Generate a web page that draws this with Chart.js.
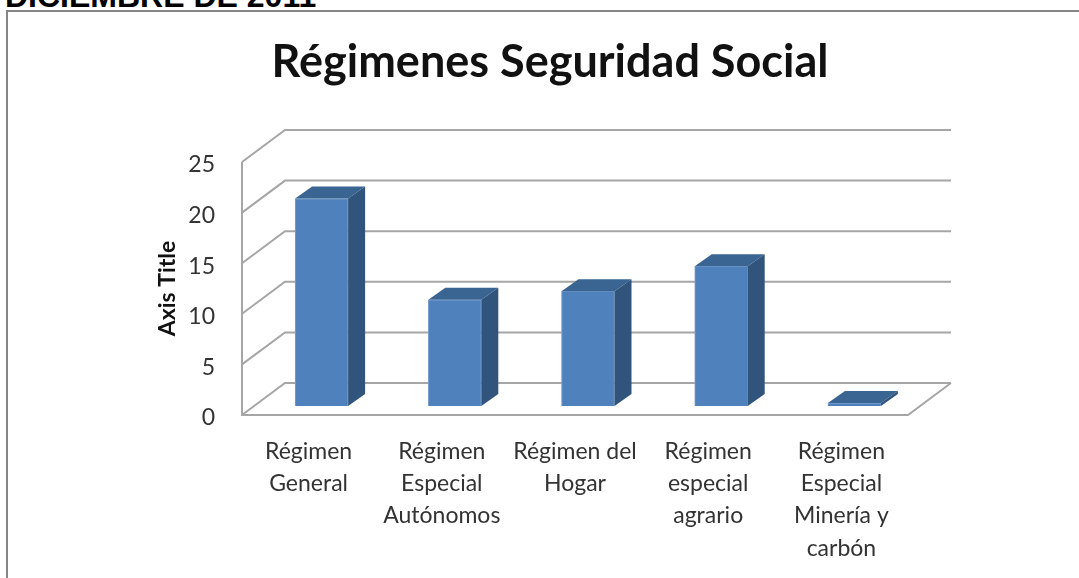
<!DOCTYPE html>
<html>
<head>
<meta charset="utf-8">
<style>
  html, body { margin: 0; padding: 0; background: #fff; overflow: hidden; }
  #heading { position: absolute; left: 5px; top: -22px; font: bold 32px "Liberation Sans", Arial, sans-serif; color: #000; white-space: nowrap; }
  #frame { position: absolute; left: 6px; top: 10px; width: 1073px; height: 568px; border-top: 2px solid #858585; border-left: 2px solid #858585; box-sizing: border-box; }
  #wrap { position: absolute; left: 21px; top: 0; width: 1058px; height: 578px; }
</style>
</head>
<body>
<div id="heading">DICIEMBRE DE 2011</div>
<div id="frame"></div>
<div id="wrap"><canvas id="regimenChart"></canvas></div>
<script src="https://cdn.jsdelivr.net/npm/chart.js@4/dist/chart.umd.js"></script>
<script>
var categories = [
  ['Régimen', 'General'],
  ['Régimen', 'Especial', 'Autónomos'],
  ['Régimen del', 'Hogar'],
  ['Régimen', 'especial', 'agrario'],
  ['Régimen', 'Especial', 'Minería y', 'carbón']
];
var values = [20.5, 10.5, 11.35, 13.8, 0.3];
var yTicks = [0, 5, 10, 15, 20, 25];

var gridColor = '#a6a6a6';
// 3D look: depth of the back wall and of the bars, in pixels
var wall = { x: 43, y: -32 };
var barShift = { x: 13, y: -9 };
var barDepth = { x: 17, y: -12 };

function fillPoly(ctx, pts, color) {
  ctx.fillStyle = color;
  ctx.beginPath();
  ctx.moveTo(pts[0][0], pts[0][1]);
  pts.slice(1).forEach(function(p) { ctx.lineTo(p[0], p[1]); });
  ctx.closePath();
  ctx.fill();
}

var box3d = {
  id: 'box3d',
  // walls and floor behind the bars
  beforeDatasetsDraw: function(chart) {
    var ctx = chart.ctx, area = chart.chartArea, y = chart.scales.y;
    ctx.save();
    ctx.strokeStyle = gridColor;
    ctx.lineWidth = 2;
    yTicks.forEach(function(v) {
      var py = y.getPixelForValue(v);
      ctx.beginPath();
      ctx.moveTo(area.left, py);
      ctx.lineTo(area.left + wall.x, py + wall.y);
      ctx.lineTo(area.right + wall.x, py + wall.y);
      ctx.stroke();
    });
    var top = y.getPixelForValue(25), zero = y.getPixelForValue(0);
    ctx.beginPath();
    ctx.moveTo(area.left, top);
    ctx.lineTo(area.left, zero);
    ctx.lineTo(area.right, zero);
    ctx.lineTo(area.right + wall.x, zero + wall.y);
    ctx.stroke();
    ctx.restore();
  },
  // push the native bars off the front plane
  beforeDatasetDraw: function(chart) {
    chart.ctx.save();
    chart.ctx.translate(barShift.x, barShift.y);
  },
  afterDatasetDraw: function(chart, args) {
    var ctx = chart.ctx;
    args.meta.data.forEach(function(bar) {
      var l = bar.x - bar.width / 2, r = bar.x + bar.width / 2, t = bar.y, b = bar.base;
      fillPoly(ctx, [[l, t], [r, t], [r + barDepth.x, t + barDepth.y], [l + barDepth.x, t + barDepth.y]], '#3a6491');
      fillPoly(ctx, [[r, t], [r + barDepth.x, t + barDepth.y], [r + barDepth.x, b + barDepth.y], [r, b]], '#31547d');
    });
    ctx.restore();
  }
};

new Chart(document.getElementById('regimenChart'), {
  type: 'bar',
  data: {
    labels: categories,
    datasets: [{
      data: values,
      backgroundColor: '#4f81bd',
      borderColor: '#7ba0d0',
      borderWidth: 1,
      barThickness: 53
    }]
  },
  plugins: [box3d],
  options: {
    responsive: true,
    maintainAspectRatio: false,
    animation: false,
    plugins: {
      legend: { display: false },
      tooltip: { enabled: false },
      title: {
        display: true,
        text: 'Régimenes Seguridad Social',
        color: '#111',
        font: { family: 'Lato', size: 45, weight: 'bold', lineHeight: 1.2 },
        padding: { top: 35, bottom: 73 }
      }
    },
    scales: {
      x: {
        grid: { display: false },
        border: { display: false },
        afterFit: function(scale) { scale.height = 163; },
        ticks: {
          color: '#333',
          autoSkip: false,
          maxRotation: 0,
          minRotation: 0,
          padding: 12,
          font: { family: 'Lato', size: 23, lineHeight: 1.41 }
        }
      },
      y: {
        min: 0,
        max: 25,
        grid: { display: false },
        border: { display: false },
        afterFit: function(scale) { scale.width = 221; },
        title: {
          display: true,
          text: 'Axis Title',
          color: '#111',
          font: { family: 'Lato', size: 23, weight: 'bold', lineHeight: 1.2 },
          padding: { top: 133, bottom: 0 }
        },
        ticks: {
          color: '#333',
          stepSize: 5,
          padding: 19,
          // empty first line nudges the number a few px below its gridline
          callback: function(v) { return ['', String(v)]; },
          font: { family: 'Lato', size: 23, lineHeight: 0.26 }
        }
      },
      // empty axis reserves the space right of the plot so the title stays centred on the page
      spacer: {
        type: 'linear',
        position: 'right',
        display: true,
        grid: { display: false },
        border: { display: false },
        ticks: { display: false },
        afterFit: function(scale) { scale.width = 171; }
      }
    }
  }
});
</script>
</body>
</html>
